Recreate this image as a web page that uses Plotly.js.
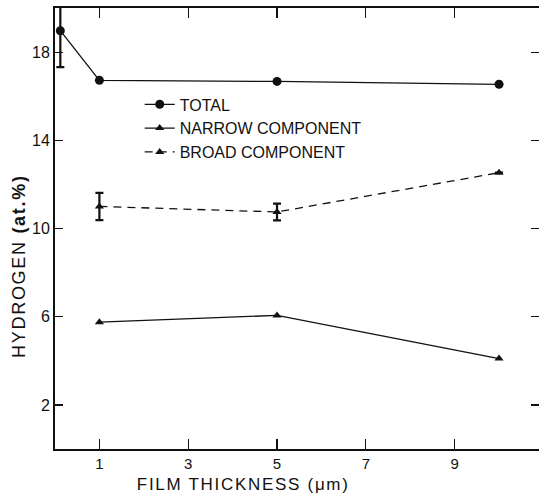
<!DOCTYPE html>
<html>
<head>
<meta charset="utf-8">
<script src="https://cdn.plot.ly/plotly-3.0.1.min.js"></script>
<style>
html,body{margin:0;padding:0;background:#fff;}
#chart{width:540px;height:493px;}
#chart .annotation-text{letter-spacing:1.7px;}
</style>
</head>
<body>
<div id="chart"></div>
<script>
// Data
const totalX = [0.12, 1, 5, 10];
const totalY = [18.97, 16.72, 16.67, 16.54];
const totalErr = [1.65, 0, 0, 0];

const narrowX = [1, 5, 10];
const narrowY = [5.75, 6.06, 4.1];

const broadX = [1, 5, 10];
const broadY = [11.0, 10.75, 12.53];
const broadErr = [0.62, 0.38, 0];

const xTicks = [1, 3, 5, 7, 9];
const yTicks = [2, 6, 10, 14, 18];

const ink = '#111';
const font = 'Liberation Sans, Arial, sans-serif';

const traces = [
  {
    x: totalX, y: totalY, name: 'TOTAL', type: 'scatter', mode: 'lines+markers',
    line: {color: ink, width: 1.3},
    marker: {symbol: 'circle', size: 9, color: ink},
    error_y: {type: 'data', array: totalErr, visible: true, color: ink, thickness: 2.2, width: 4}
  },
  {
    x: narrowX, y: narrowY, name: 'NARROW COMPONENT', type: 'scatter', mode: 'lines+markers',
    line: {color: ink, width: 1.3},
    marker: {symbol: 'triangle-up', size: 8, color: ink}
  },
  {
    x: broadX, y: broadY, name: 'BROAD COMPONENT', type: 'scatter', mode: 'lines+markers',
    line: {color: ink, width: 1.3, dash: '8px,6px'},
    marker: {symbol: 'triangle-up', size: 8, color: ink},
    error_y: {type: 'data', array: broadErr, visible: true, color: ink, thickness: 2.2, width: 4}
  },
  {
    x: [], y: [], yaxis: 'y2', type: 'scatter', mode: 'markers',
    showlegend: false, hoverinfo: 'skip'
  }
];

const layout = {
  width: 540, height: 493,
  margin: {l: 55, r: 1, t: 8, b: 44},
  paper_bgcolor: '#fff', plot_bgcolor: '#fff',
  font: {family: font, color: ink, size: 15},
  showlegend: true,
  legend: {
    x: 0.175, y: 0.82, xanchor: 'left', yanchor: 'top',
    bgcolor: 'rgba(0,0,0,0)', borderwidth: 0,
    font: {family: font, size: 16, color: ink},
    tracegroupgap: 0
  },
  xaxis: {
    range: [0, 10.9], tickvals: xTicks, ticktext: xTicks.map(String),
    ticks: 'inside', ticklen: 10, tickcolor: ink, tickwidth: 1.2,
    showline: true, linecolor: ink, linewidth: 2, mirror: 'ticks',
    showgrid: false, zeroline: false,
    tickfont: {size: 15, family: font}
  },
  yaxis: {
    range: [0, 20], tickvals: yTicks, ticktext: yTicks.map(String),
    ticks: 'inside', ticklen: 8, tickcolor: ink, tickwidth: 1.2,
    showline: true, linecolor: ink, linewidth: 2, mirror: false,
    showgrid: false, zeroline: false,
    tickfont: {size: 16, family: font}
  },
  yaxis2: {
    overlaying: 'y', side: 'right', range: [0, 20], tickvals: yTicks,
    showticklabels: false, ticks: 'inside', ticklen: 8, tickcolor: ink, tickwidth: 1.2,
    showline: false, showgrid: false, zeroline: false
  },
  annotations: [
    {
      text: 'FILM THICKNESS (\u03bcm)', xref: 'paper', yref: 'paper',
      x: 0.388, y: -0.0796, xanchor: 'center', yanchor: 'middle', borderpad: 0,
      showarrow: false, font: {size: 17, family: font, color: ink}
    },
    {
      text: 'HYDROGEN <b>(at.%)</b>', xref: 'paper', yref: 'paper',
      x: -0.074, y: 0.415, xanchor: 'center', yanchor: 'middle', textangle: -90, borderpad: 0,
      showarrow: false, font: {size: 18, family: font, color: ink}
    }
  ]
};

Plotly.newPlot('chart', traces, layout, {displayModeBar: false, staticPlot: true});
</script>
</body>
</html>
